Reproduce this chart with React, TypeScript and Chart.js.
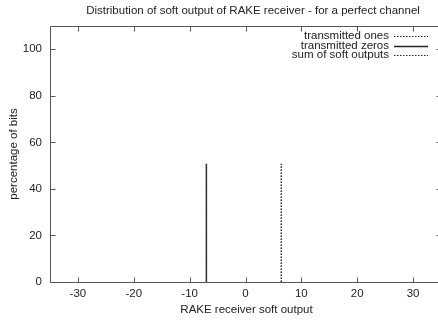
import React, { useEffect, useRef } from "react";
import { Chart, registerables } from "chart.js";

Chart.register(...registerables);

const chartTitle = "Distribution of soft output of RAKE receiver - for a perfect channel";
const xTitle = "RAKE receiver soft output";
const yTitle = "percentage of bits";
const xTicks = [-30, -20, -10, 0, 10, 20, 30];
const yTicks = [0, 20, 40, 60, 80, 100];
const onesX = [6.4, 6.4];
const onesY = [0, 50.8];
const zerosX = [-7, -7];
const zerosY = [0, 50.8];
const sumX = [-7, -7, null, 6.4, 6.4];
const sumY = [0, 50.8, null, 0, 50.8];
const legendLabels = ["transmitted ones", "transmitted zeros", "sum of soft outputs"];

const FONT = "Liberation Sans, Arial, Helvetica, sans-serif";
const AXIS = "#555";
const TEXT = "#222";

function pts(xs: (number | null)[], ys: (number | null)[]) {
  return xs.map((x, i) => (x === null ? { x: NaN, y: NaN } : { x, y: ys[i] as number }));
}

const framePlugin = {
  id: "frame",
  afterDraw(chart: any) {
    const ctx = chart.ctx;
    const { left, right, top, bottom } = chart.chartArea;
    const xs = chart.scales.x;
    const ys = chart.scales.y;
    const L = Math.round(left) + 0.5;
    const R = Math.round(right) + 0.5;
    const T = Math.round(top) + 0.5;
    const B = Math.round(bottom) + 0.5;
    ctx.save();
    ctx.strokeStyle = AXIS;
    ctx.lineWidth = 1;
    ctx.setLineDash([]);
    ctx.beginPath();
    ctx.rect(L, T, R - L, B - T);
    ctx.stroke();
    const tl = 5;
    ctx.beginPath();
    for (const v of xTicks) {
      const px = Math.round(xs.getPixelForValue(v)) + 0.5;
      ctx.moveTo(px, B);
      ctx.lineTo(px, B - tl);
      ctx.moveTo(px, T);
      ctx.lineTo(px, T + tl);
    }
    for (const v of yTicks) {
      const py = Math.round(ys.getPixelForValue(v)) + 0.5;
      ctx.moveTo(L, py);
      ctx.lineTo(L + tl, py);
      ctx.moveTo(R, py);
      ctx.lineTo(R - tl, py);
    }
    ctx.stroke();

    ctx.fillStyle = TEXT;
    ctx.font = `11.5px ${FONT}`;
    ctx.textAlign = "center";
    ctx.textBaseline = "middle";
    ctx.fillText(chartTitle, 253, 11);
    ctx.fillText(xTitle, (left + 441) / 2 + 1, 310);
    ctx.save();
    ctx.translate(14, (top + bottom) / 2);
    ctx.rotate(-Math.PI / 2);
    ctx.fillText(yTitle, 0, 0);
    ctx.restore();

    // legend
    const styles = [
      { dash: [1.5, 1.5], color: "#222", width: 1 },
      { dash: [], color: "#222", width: 1.5 },
      { dash: [1.5, 1.5], color: "#222", width: 1 },
    ];
    const rowsY = [36, 45.5, 55];
    ctx.textAlign = "right";
    legendLabels.forEach((lab, i) => {
      ctx.fillStyle = TEXT;
      ctx.fillText(lab, 389, rowsY[i]);
      ctx.strokeStyle = styles[i].color;
      ctx.lineWidth = styles[i].width;
      ctx.setLineDash(styles[i].dash);
      ctx.beginPath();
      ctx.moveTo(394, Math.round(rowsY[i]) + 0.5);
      ctx.lineTo(428, Math.round(rowsY[i]) + 0.5);
      ctx.stroke();
    });
    ctx.restore();
  },
};

export default function App() {
  const ref = useRef<HTMLCanvasElement | null>(null);
  useEffect(() => {
    document.body.style.margin = "0";
    const canvas = ref.current!;
    const chart = new Chart(canvas, {
      type: "line",
      data: {
        datasets: [
          {
            label: legendLabels[1],
            data: pts(zerosX, zerosY),
            borderColor: "#333",
            borderWidth: 1.5,
            pointRadius: 0,
            spanGaps: false,
          },
          {
            label: legendLabels[0],
            data: pts(onesX, onesY),
            borderColor: "#222",
            borderWidth: 1,
            borderDash: [1.5, 1.5],
            pointRadius: 0,
          },
          {
            label: legendLabels[2],
            data: pts(sumX, sumY),
            borderColor: "#222",
            borderWidth: 1,
            borderDash: [1.5, 1.5],
            pointRadius: 0,
            spanGaps: false,
          },
        ],
      },
      options: {
        responsive: false,
        animation: false,
        layout: { padding: { top: 26, right: 1, left: 0, bottom: 0 } },
        plugins: { legend: { display: false }, title: { display: false }, tooltip: { enabled: false } },
        scales: {
          x: {
            type: "linear",
            min: -35,
            max: 35,
            afterBuildTicks: (s: any) => {
              s.ticks = xTicks.map((v) => ({ value: v }));
            },
            afterFit: (s: any) => {
              s.height = 39;
            },
            grid: { display: false, drawTicks: false },
            border: { display: false },
            ticks: { padding: 5, color: TEXT, font: { family: FONT, size: 11.5 }, maxRotation: 0, autoSkip: false },
          },
          y: {
            type: "linear",
            min: 0,
            max: 110,
            afterBuildTicks: (s: any) => {
              s.ticks = yTicks.map((v) => ({ value: v }));
            },
            afterFit: (s: any) => {
              s.width = 50;
            },
            grid: { display: false, drawTicks: false },
            border: { display: false },
            ticks: { padding: 8, color: TEXT, font: { family: FONT, size: 11.5 }, autoSkip: false },
          },
        },
      },
      plugins: [framePlugin],
    });
    return () => chart.destroy();
  }, []);
  return (
    <div style={{ width: 438, height: 321, overflow: "hidden", position: "relative", background: "#fff" }}>
      <canvas ref={ref} width={442} height={321} style={{ display: "block", width: 442, height: 321 }} />
    </div>
  );
}
